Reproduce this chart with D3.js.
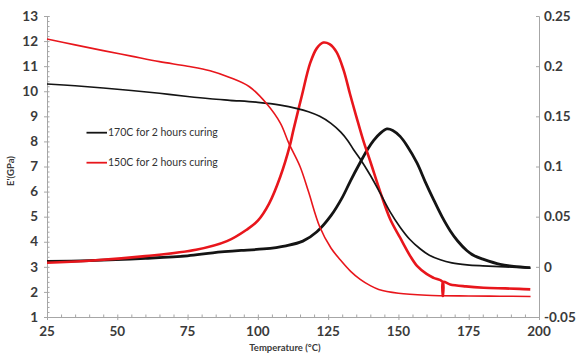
<!DOCTYPE html>
<html><head><meta charset="utf-8">
<script src="https://cdn.jsdelivr.net/npm/d3@7"></script>
<style>
html,body{margin:0;padding:0;background:#fff;}
svg{display:block;}
text{font-family:Lato,"Open Sans",sans-serif;}
</style></head>
<body><svg id="c" width="578" height="356"></svg>
<script>
// ---- data ----
const xTicks = [25,50,75,100,125,150,175,200];
const leftTicks = [1,2,3,4,5,6,7,8,9,10,11,12,13];
const rightTicks = [-0.05,0,0.05,0.1,0.15,0.2,0.25];
const rightTickLabels = ["-0.05","0","0.05","0.1","0.15","0.2","0.25"];
const legendLabels = ["170C for 2 hours curing","150C for 2 hours curing"];
const seriesColors = ["#141414","#e8161c"];

// E' 170C (black, left axis)
const e170T = [25,35,45,55,65,75,83,90,100,108,114,118,122,126,129.5,132,134,136.4,140,143.5,147,150.6,154,157.7,161,164.9,169,174.4,180,186,192,197];
const e170V = [10.29,10.22,10.13,10.03,9.92,9.79,9.7,9.64,9.56,9.45,9.31,9.18,9.0,8.72,8.37,8.03,7.68,7.3,6.65,5.94,5.2,4.58,4.1,3.72,3.46,3.28,3.16,3.08,3.04,3.01,2.98,2.95];
// E' 150C (red, left axis)
const e150T = [25,35,45,55,65,75,83,90,97,103,108,111,115,118,122,126,129.3,133,136.4,140,143,150,160,175,186,197];
const e150V = [12.08,11.85,11.62,11.4,11.18,11.0,10.82,10.55,10.18,9.52,8.73,7.93,7.0,6.0,4.6,3.75,3.28,2.82,2.5,2.25,2.1,1.95,1.87,1.84,1.83,1.82];
// tan delta 170C (black, right axis)
const t170T = [25,40,60,75,84,95,102,110,116,121,126,130,133,136.4,139,141.2,143.5,145.9,148,150.6,153,156.6,159.5,162.5,165.5,168.4,171,174.4,177,180.3,186.2,191,196.9];
const t170V = [0.0054,0.0062,0.0085,0.011,0.014,0.0165,0.0178,0.021,0.0256,0.035,0.051,0.069,0.086,0.104,0.117,0.126,0.133,0.1375,0.136,0.13,0.121,0.1035,0.085,0.067,0.05,0.036,0.026,0.016,0.011,0.0074,0.0024,0.0005,-0.0008];
// tan delta 150C (red, right axis)
const t150T = [25,40,60,78,89,96,100,104,108,111.3,112.7,115.6,118.6,121,123.3,125.5,128,130.5,132.8,135,137.6,140,143.5,147,150.6,154.2,156.6,160,162.5,165.7,165.8,165.9,168.4,174,180.3,188,193,196.9];
const t150V = [0.004,0.006,0.0107,0.017,0.0256,0.037,0.046,0.063,0.09,0.12,0.137,0.17,0.203,0.218,0.2235,0.222,0.214,0.196,0.172,0.15,0.125,0.105,0.075,0.048,0.029,0.0107,0.001,-0.007,-0.011,-0.015,-0.029,-0.015,-0.0175,-0.0195,-0.0208,-0.0215,-0.022,-0.0225];

// ---- layout ----
const svg = d3.select("#c");
const L = 47, R = 539, T = 16, B = 317;
const x = d3.scaleLinear().domain([25,200]).range([L,R]);
const yL = d3.scaleLinear().domain([1,13]).range([B,T]);
const yR = d3.scaleLinear().domain([-0.05,0.25]).range([B,T]);
const axisCol = "#a6a6a6", labCol = "#3a3a3a";

// left axis
const gl = svg.append("g").attr("transform",`translate(${L},0)`);
gl.call(d3.axisLeft(yL).tickValues(d3.range(1,13.001,0.2)).tickSize(-2.5).tickFormat(""));
gl.call(g=>g.append("g").call(d3.axisLeft(yL).tickValues(leftTicks).tickSize(3).tickFormat("")));
gl.selectAll("path.domain").attr("stroke",axisCol);
gl.selectAll("line").attr("stroke",axisCol);
gl.selectAll(".lab").data(leftTicks).enter().append("text")
  .attr("x",-9).attr("y",d=>yL(d)).attr("dy","0.35em").attr("text-anchor","end")
  .attr("font-size",13.5).attr("font-weight",700).attr("fill",labCol).text(d=>d);

// bottom axis
const gb = svg.append("g").attr("transform",`translate(0,${B})`);
gb.call(d3.axisBottom(x).tickValues(d3.range(25,200.001,5)).tickSize(-2.5).tickFormat(""));
gb.call(g=>g.append("g").call(d3.axisBottom(x).tickValues(xTicks).tickSize(3).tickFormat("")));
gb.selectAll("path.domain").attr("stroke",axisCol);
gb.selectAll("line").attr("stroke",axisCol);
gb.selectAll(".lab").data(xTicks).enter().append("text")
  .attr("x",d=>x(d)).attr("y",14).attr("dy","0.35em").attr("text-anchor","middle")
  .attr("font-size",13.5).attr("font-weight",700).attr("fill",labCol).text(d=>d);

// right axis
const gr = svg.append("g").attr("transform",`translate(${R},0)`);
gr.call(d3.axisRight(yR).tickValues(rightTicks).tickSize(-3).tickFormat(""));
gr.selectAll("path.domain").attr("stroke",axisCol);
gr.selectAll("line").attr("stroke",axisCol);
gr.selectAll(".lab").data(rightTicks).enter().append("text")
  .attr("x",5).attr("y",d=>yR(d)).attr("dy","0.35em").attr("text-anchor","start")
  .attr("font-size",13.5).attr("font-weight",700).attr("fill",labCol).text((d,i)=>rightTickLabels[i]);

// axis titles
svg.append("text").attr("transform",`translate(14,171) rotate(-90)`).attr("text-anchor","middle")
  .attr("font-size",9.5).attr("font-weight",700).attr("fill",labCol).text("E'(GPa)");
svg.append("text").attr("x",285).attr("y",351).attr("text-anchor","middle")
  .attr("font-size",9.5).attr("font-weight",700).attr("fill",labCol).text("Temperature (°C)");

// curves
const curve = d3.curveCatmullRom.alpha(0.5);
function draw(ts, vs, ys, col, w){
  const pts = ts.map((t,i)=>[t,vs[i]]);
  svg.append("path").datum(pts).attr("fill","none").attr("stroke",col).attr("stroke-width",w)
    .attr("stroke-linejoin","round")
    .attr("d", d3.line().x(d=>x(d[0])).y(d=>ys(d[1])).curve(curve));
}
draw(t170T,t170V,yR,seriesColors[0],2.8);
draw(t150T,t150V,yR,seriesColors[1],2.6);
draw(e170T,e170V,yL,seriesColors[0],1.7);
draw(e150T,e150V,yL,seriesColors[1],1.6);

// legend
const lg = svg.append("g");
legendLabels.forEach((s,i)=>{
  const yy = 132.7 + i*30;
  lg.append("line").attr("x1",86.5).attr("x2",107).attr("y1",yy).attr("y2",yy)
    .attr("stroke",seriesColors[i]).attr("stroke-width",1.8);
  lg.append("text").attr("x",108).attr("y",yy).attr("dy","0.35em")
    .attr("font-size",10.5).attr("fill","#333").text(s);
});
</script></body></html>
